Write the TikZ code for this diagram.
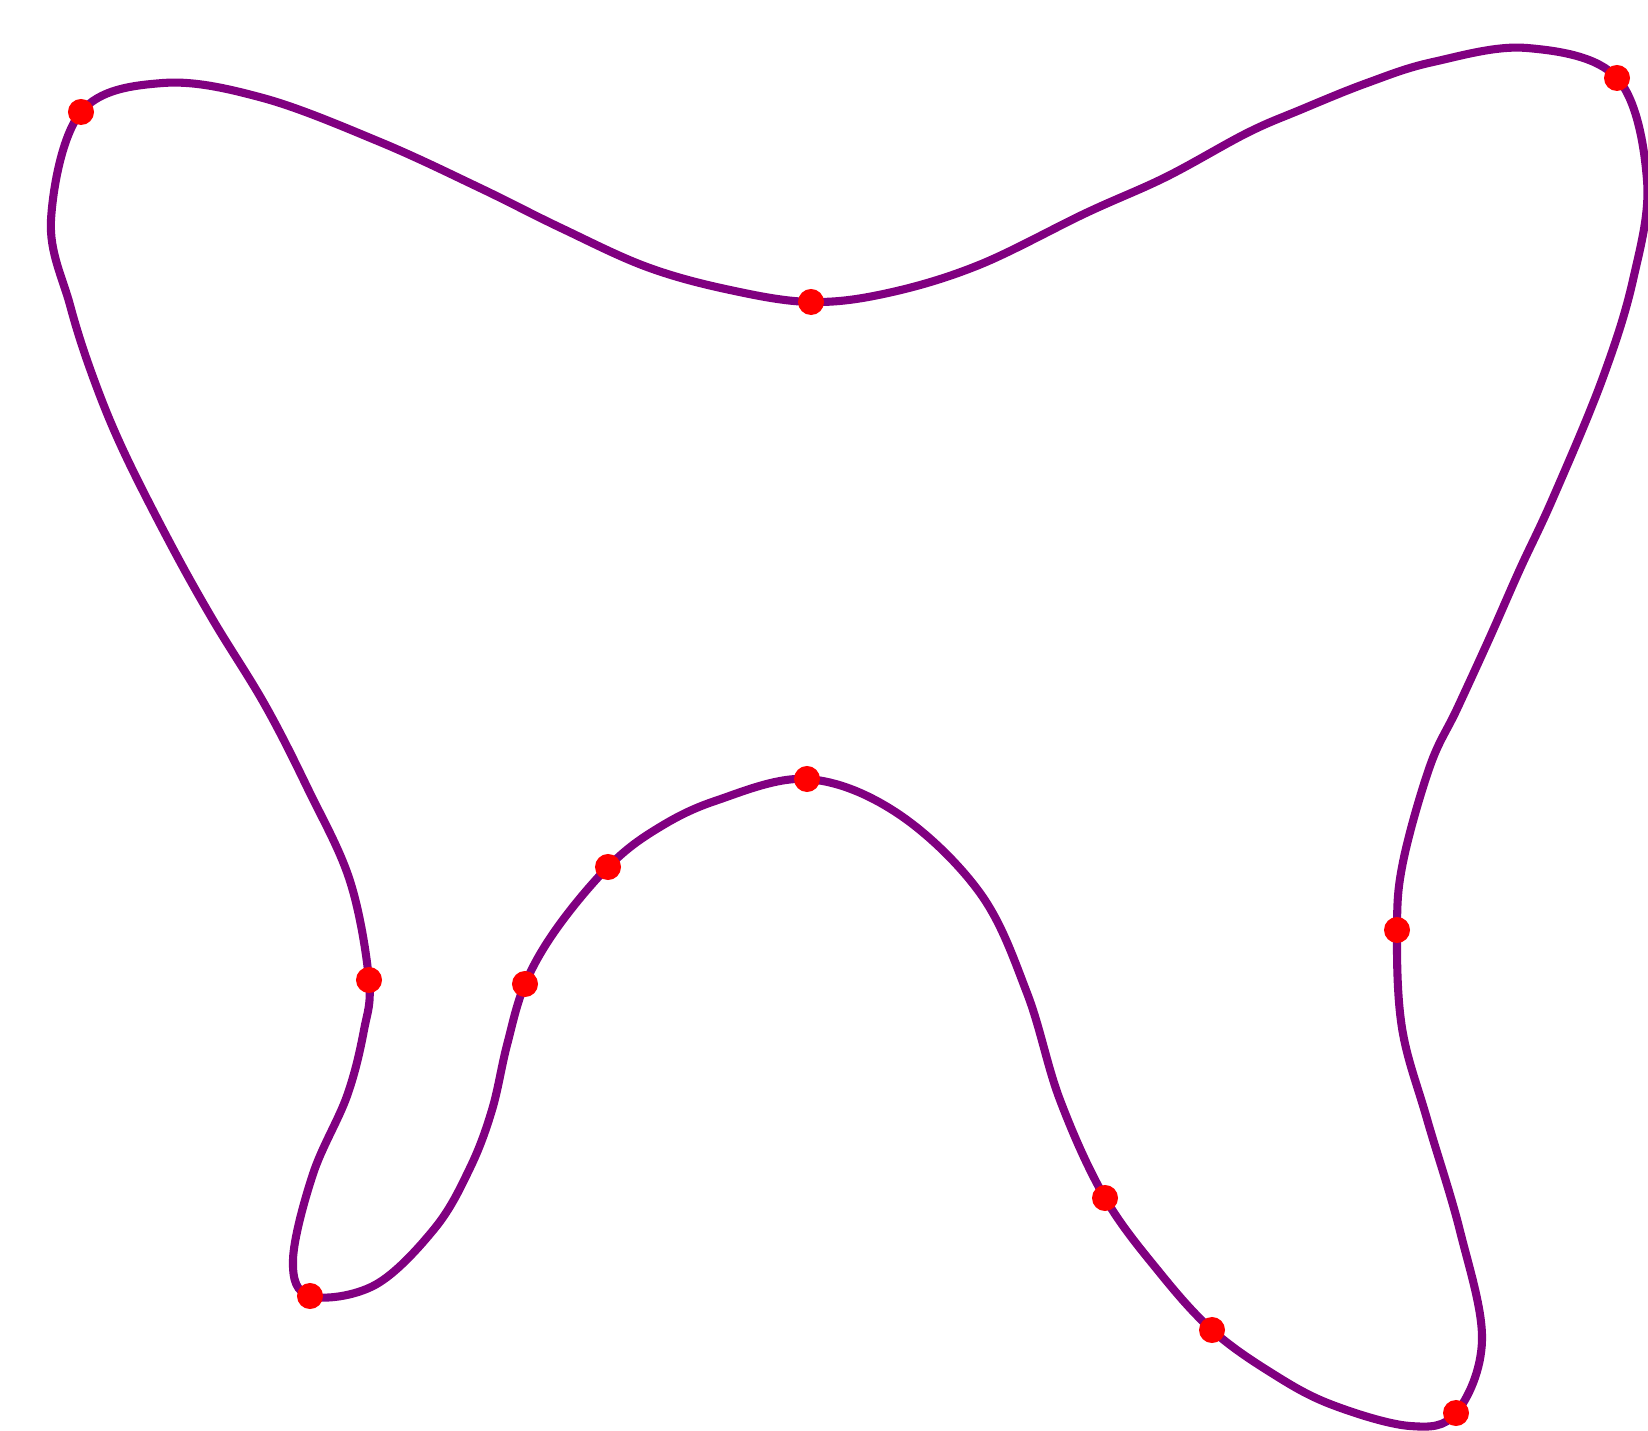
\documentclass[tikz,border=0pt]{standalone}
\definecolor{curvepurple}{RGB}{128, 0, 128}
\definecolor{dotred}{RGB}{255, 0, 0}
\usepackage{tikz}

\tikzset{
  outline/.style={draw=curvepurple, line width=2.3pt, line join=round},
  knot/.style={fill=dotred}
}

\begin{document}
\begin{tikzpicture}[x=0.01cm, y=-0.01cm]
                    \useasboundingbox (0, 0) rectangle (1648, 1431);
                    % knots of the closed curve
                    \coordinate (k1) at (81, 112);
                    \coordinate (k2) at (811, 302);
                    \coordinate (k3) at (1617, 78);
                    \coordinate (k4) at (1397, 930);
                    \coordinate (k5) at (1456, 1413);
                    \coordinate (k6) at (1212, 1330);
                    \coordinate (k7) at (1105, 1198);
                    \coordinate (k8) at (807, 779);
                    \coordinate (k9) at (608, 867);
                    \coordinate (k10) at (525, 984);
                    \coordinate (k11) at (310, 1296);
                    \coordinate (k12) at (369, 980);
                    % the curve, through the knots and some points in between
                    \draw[outline] plot[smooth cycle, tension=0.6] coordinates {
                          (k1) (163,83) (263,98) (380,142) (480,188) (561,228) (647,267)
                          (730,290)
                          (k2) (888,293) (979,265) (1086,213) (1166,177) (1247,133)
                          (1300,110) (1367,83) (1433,62) (1527,48)
                          (k3) (1647,180) (1633,280) (1602,380) (1553,498) (1520,569)
                          (1490,637) (1457,709) (1430,766) (1403,862)
                          (k4) (1402,1028) (1427,1119) (1460,1231) (1482,1340)
                          (k5) (1410,1426) (1330,1404) (1270,1372)
                          (k6) (1160,1273)
                          (k7) (1060,1100) (1027,993) (980,893) (897,813)
                          (k8) (715,801) (655,830)
                          (k9) (557,928)
                          (k10) (507,1045) (492,1110) (470,1168) (435,1228) (375,1285)
                          (k11) (293,1260) (313,1174) (347,1096) (364,1030)
                          (k12) (350,881) (308,789) (265,705) (213,620) (170,543)
                          (123,450) (93,377) (70,305) (51,220)};
                    \foreach \k in {1,...,12}
                      \fill[knot] (k\k) circle (0.13cm);
                \end{tikzpicture}
\end{document}
